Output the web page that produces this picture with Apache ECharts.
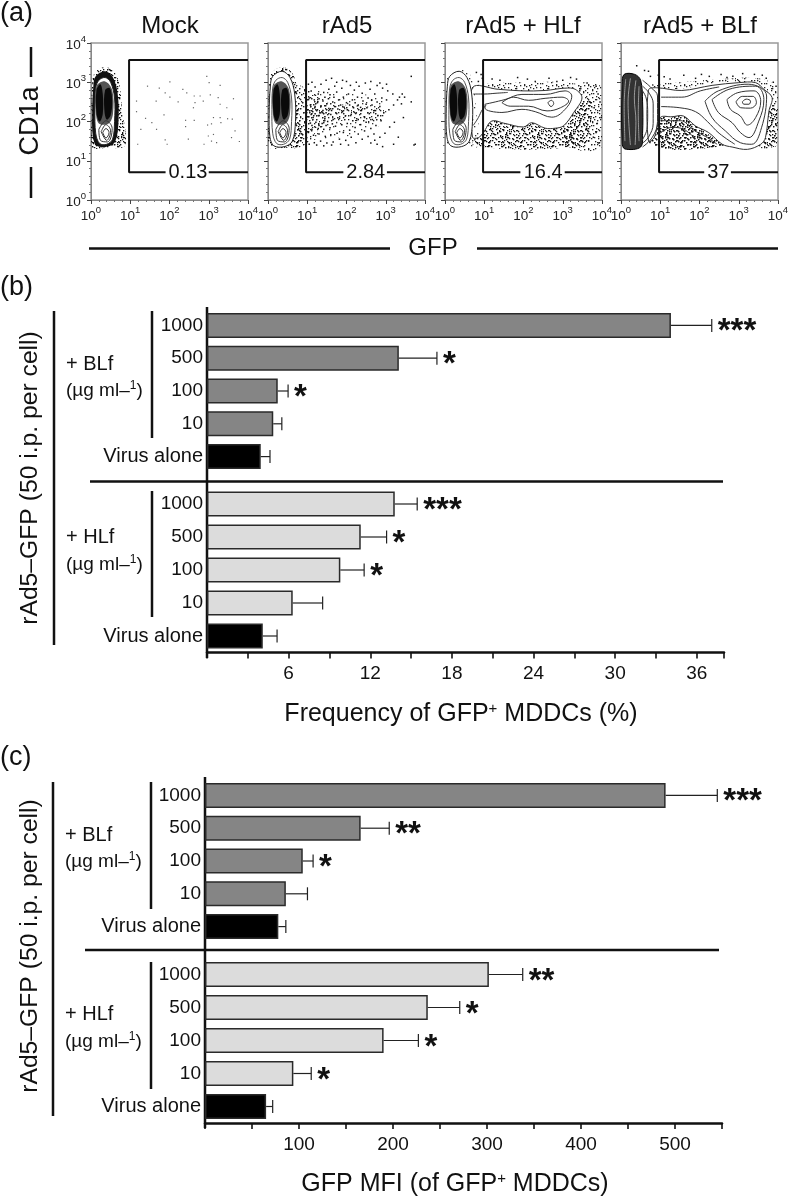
<!DOCTYPE html>
<html>
<head>
<meta charset="utf-8">
<title>rAd5-GFP and lactoferrin</title>
<style>
html, body { margin: 0; padding: 0; background: #fff; }
#main { width: 792px; height: 1199px; filter: blur(0.4px); }
</style>
<script src="https://cdn.jsdelivr.net/npm/echarts@6/dist/echarts.min.js"></script>
</head>
<body>
<div id="main"></div>
<script>
// ---- bar charts
var doseLabels = ['1000', '500', '100', '10', 'Virus alone'];

var freqBLf = [34.1, 14.1, 5.2, 4.87, 3.95];
var freqBLfErr = [37.1, 16.9, 5.96, 5.5, 4.63];
var freqBLfStars = ['***', '*', '*', '', ''];
var freqHLf = [13.8, 11.3, 9.8, 6.3, 4.1];
var freqHLfErr = [15.45, 13.2, 11.55, 8.5, 5.15];
var freqHLfStars = ['***', '*', '*', '', ''];

var mfiBLf = [490, 165.6, 104, 86, 78];
var mfiBLfErr = [545, 196, 115, 109, 86];
var mfiBLfStars = ['***', '**', '*', '', ''];
var mfiHLf = [302, 237, 190, 94, 65];
var mfiHLfErr = [338, 271, 227, 113, 72];
var mfiHLfStars = ['**', '*', '*', '*', ''];

// ---- flow plots, all coordinates in decades (log10)
var flowTitles = ['Mock', 'rAd5', 'rAd5 + HLf', 'rAd5 + BLf'];
var gateValues = ['0.13', '2.84', '16.4', '37'];
var gateCentres = [2.47, 2.49, 2.5, 2.48];
var gateGapLeft = [1.9, 1.92, 1.92, 2.12];
var gateGapRight = [3.0, 3.03, 3.05, 2.8];

var mockDots = [[1.44,2.9],[1.74,2.85],[2.01,3.01],[2.95,3.15],[3.01,2.99],[3.29,2.92],[1.16,2.52],[1.66,2.52],[1.89,2.73],[2.01,2.62],[2.34,2.82],[2.22,2.5],[2.44,2.73],[2.63,2.65],[2.78,2.65],[2.86,2.52],[3.04,2.68],[3.24,2.61],[3.29,2.44],[2.65,2.48],[2.61,2.35],[1.16,2.25],[1.39,2.08],[1.86,2.17],[2.41,2.03],[2.63,2.03],[2.41,1.87],[3.12,2.1],[3.29,2.1],[3.48,2.07],[3.6,2.06],[3.07,1.94],[2.97,1.91],[3.31,1.97],[1.27,1.8],[1.89,1.53],[1.94,1.42],[1.19,1.42],[2.99,1.63],[3.12,1.67],[3.07,1.5],[2.88,1.42],[3.2,1.46],[3.78,1.49],[3.63,2.58],[3.46,2.35],[1.55,1.97],[1.67,1.8],[3.67,1.76],[2.48,1.55],[3.58,1.59]];

var rad5Dots = [[1.03,2.95],[1.12,3.0],[1.2,2.88],[1.35,2.95],[1.48,3.05],[1.62,3.1],[1.7,2.9],[1.55,2.82],[1.42,2.74],[1.28,2.7],[1.1,2.78],[1.05,2.6],[1.18,2.55],[1.3,2.58],[1.45,2.62],[1.58,2.68],[1.75,2.75],[1.88,2.85],[2.0,3.02],[2.1,2.92],[2.2,2.8],[2.05,2.7],[1.92,2.62],[1.8,2.55],[1.65,2.5],[1.5,2.45],[1.35,2.4],[1.2,2.38],[1.08,2.42],[1.02,2.3],[1.14,2.25],[1.26,2.3],[1.4,2.28],[1.55,2.33],[1.7,2.38],[1.85,2.42],[2.0,2.48],[2.15,2.55],[2.28,2.62],[2.4,2.72],[2.32,2.9],[2.48,2.98],[2.6,2.82],[2.72,2.7],[2.55,2.6],[2.42,2.52],[2.3,2.42],[2.18,2.35],[2.02,2.3],[1.9,2.25],[1.75,2.2],[1.6,2.18],[1.45,2.12],[1.3,2.15],[1.15,2.1],[1.04,2.12],[1.08,1.96],[1.22,1.98],[1.38,1.95],[1.52,2.0],[1.66,2.05],[1.82,2.08],[1.97,2.14],[2.12,2.18],[2.25,2.22],[2.38,2.28],[2.52,2.35],[2.65,2.42],[2.78,2.5],[2.9,2.6],[3.02,2.55],[2.85,2.38],[2.72,2.28],[2.58,2.2],[2.45,2.12],[2.3,2.05],[2.16,2.02],[2.02,1.95],[1.88,1.92],[1.72,1.88],[1.58,1.84],[1.42,1.8],[1.28,1.82],[1.12,1.8],[1.03,1.72],[1.16,1.65],[1.3,1.68],[1.46,1.62],[1.6,1.66],[1.76,1.7],[1.92,1.72],[2.08,1.78],[2.22,1.85],[2.36,1.92],[2.5,1.98],[2.66,2.05],[2.8,2.15],[2.95,2.22],[3.08,2.3],[3.2,2.42],[3.3,2.55],[3.18,2.7],[3.05,2.78],[2.92,2.85],[2.78,2.92],[3.35,2.62],[3.42,2.7],[3.48,2.62],[3.4,2.45],[2.88,2.02],[2.75,1.9],[2.62,1.82],[2.46,1.76],[2.3,1.68],[2.12,1.6],[1.98,1.52],[1.82,1.55],[1.66,1.48],[1.5,1.45],[1.34,1.5],[1.18,1.46],[1.05,1.42],[1.24,1.4],[1.42,1.38],[1.62,1.4],[1.85,1.42],[2.05,1.4],[2.24,1.46],[2.4,1.55],[2.55,1.62],[2.7,1.68],[2.62,1.45],[2.72,1.52],[2.78,1.42],[2.85,1.6],[2.98,1.7],[3.1,1.86],[3.22,1.98],[3.32,1.6],[3.2,1.42],[3.45,2.1],[2.92,1.36],[1.75,3.0],[1.9,3.05],[2.25,3.0],[2.62,3.02],[2.85,2.98],[3.02,2.95],[1.62,2.28],[1.78,2.32],[1.94,2.36],[2.08,2.42],[2.22,2.48],[2.36,2.36],[2.5,2.44],[2.64,2.54],[1.26,2.48],[1.4,2.52],[1.54,2.58],[1.68,2.62],[1.1,2.18],[1.2,2.2],[1.34,2.22],[1.48,2.22],[1.12,1.9],[1.3,1.9],[1.48,1.9],[1.64,1.94],[3.65,3.15],[3.65,2.5],[3.75,1.42],[3.72,1.4]];

var hlfDots = [[.95,3.1],[1.4,3.05],[1.85,3.12],[2.3,3.02],[2.65,3.1],[3.0,3.05],[3.35,3.08],[3.62,2.98],[3.85,2.9],[.92,3.2],[1.2,3.08],[2.1,3.08],[2.85,3.02],[3.2,3.12],[3.9,2.7],[3.95,2.5],[3.8,2.35],[3.72,2.12],[3.88,1.95],[3.6,1.82],[3.78,1.6],[3.92,1.45],[3.66,1.5],[3.85,1.72],[3.98,2.1],[.8,3.25],[.85,3.02]];

var blfDots = [[.7,3.28],[.95,3.18],[1.25,3.08],[1.6,3.18],[1.9,3.1],[2.25,3.15],[2.55,3.2],[2.85,3.15],[3.1,3.22],[3.4,3.2],[3.7,3.1],[3.88,3.0],[.6,3.3],[1.1,3.14],[2.05,3.2],[2.7,3.12],[3.6,3.18],[.4,3.42],[.75,3.15],[3.95,2.9]];

// stipple texture, hand placed dots on a 32 px square tile
var stippleDots = [2,3,9,1,14,6,23,2,29,5,5,9,12,12,18,9,26,11,31,14,1,15,8,17,15,16,21,14,28,19,4,22,11,24,17,21,24,23,30,27,7,28,13,30,20,27,26,30,3,26,19,3,10,7,27,7,6,13,23,17,16,26,0,30,22,10];
var stippleLightShifts = [[0, 0]];
var stippleMidShifts = [[0, 0], [13, 7], [21, 18]];
var stippleDenseShifts = [[0, 0], [13, 7], [21, 18], [5, 24], [27, 11], [9, 15]];

// main cell population, shared by the first three plots
var popHalo = [[.03,2.95],[.1,3.25],[.36,3.39],[.61,3.25],[.74,2.86],[.8,2.18],[.87,1.84],[.85,1.37],[.44,1.33],[.03,1.35],[.01,2.01]];
var popOuter = [[.06,2.9],[.12,3.15],[.36,3.28],[.56,3.12],[.68,2.7],[.7,2.0],[.62,1.5],[.42,1.36],[.15,1.38],[.05,1.6],[.03,2.2]];
var popInner = [[.12,2.85],[.2,3.05],[.36,3.12],[.5,3.0],[.6,2.6],[.6,2.0],[.55,1.55],[.4,1.42],[.22,1.44],[.12,1.7],[.1,2.3]];
var popMid = [[.14,2.9],[.36,3.02],[.54,2.8],[.56,2.2],[.45,1.95],[.2,1.95],[.12,2.3]];
var popLobeL = [[.14,2.8],[.24,2.95],[.3,2.7],[.3,2.2],[.22,2.0],[.14,2.2]];
var popLobeR = [[.36,2.8],[.48,2.85],[.54,2.55],[.5,2.15],[.4,2.05],[.34,2.3]];
var popRing1 = [[.3,1.72],[.38,1.82],[.46,1.72],[.38,1.58]];
var popRing2 = [[.26,1.74],[.38,1.92],[.5,1.76],[.4,1.52]];
var popRing3 = [[.2,1.8],[.38,2.02],[.54,1.82],[.42,1.48],[.24,1.52]];

var rad5Cloud = [[.72,2.85],[.85,2.9],[1.0,2.85],[1.5,2.75],[2.2,2.7],[2.9,2.6],[3.0,2.1],[2.5,1.7],[1.8,1.6],[1.0,1.5],[.9,1.4],[.72,1.4]];
var rad5Near = [[.72,2.9],[.95,2.85],[1.4,2.5],[1.5,2.0],[1.2,1.7],[.95,1.4],[.72,1.4]];
var rad5Band = [[1.0,2.5],[2.0,2.42],[2.9,2.3],[2.9,2.02],[2.0,2.02],[1.0,2.05]];

// HLf band
var hlfBandTop = [[.75,2.9],[1.2,2.98],[2,3.0],[3,3.0],[3.5,2.9],[3.5,2.7],[.9,2.75]];
var hlfBandLow = [[.75,1.38],[.8,1.8],[1.2,2.1],[2,2.0],[2.6,1.9],[3.1,1.85],[3.3,1.38]];
var hlfBandRight = [[3.05,1.4],[3.05,1.9],[3.5,2.5],[3.75,2.5],[3.55,1.4]];
var hlfBandFar = [[3.2,1.36],[3.2,2.2],[3.4,2.95],[4,2.85],[4,1.36]];
var hlfOuter = [[.7,2.86],[1.36,2.82],[1.96,2.78],[2.55,2.79],[3.06,2.85],[3.32,2.82],[3.49,2.6],[3.28,2.23],[3.02,1.89],[2.81,1.83],[2.55,1.83],[2.21,1.97],[2.0,1.86],[1.53,1.95],[1.19,2.01],[.98,1.72],[.85,1.59],[.7,1.6]];
var hlfMid = [[1.02,2.44],[1.53,2.56],[1.96,2.69],[2.55,2.69],[3.06,2.78],[3.23,2.65],[3.06,2.31],[2.72,2.11],[2.3,2.25],[1.96,2.31],[1.45,2.23],[1.02,2.34]];
var hlfInner = [[1.45,2.48],[1.74,2.62],[2.13,2.54],[2.55,2.59],[2.98,2.62],[3.15,2.52],[2.94,2.35],[2.6,2.27],[2.13,2.39],[1.66,2.39]];
var hlfPeak = [[2.62,2.48],[2.71,2.54],[2.77,2.46],[2.7,2.38]];
var hlfLinkA = [[.72,2.7],[1.0,2.7],[1.3,2.72],[1.6,2.74]];
var hlfLinkB = [[.72,1.9],[.85,2.1],[.95,2.3],[1.05,2.42]];

// BLf plot
var blfBandTop = [[.8,2.95],[1.5,3.0],[2.5,3.08],[3.5,3.1],[3.95,2.85],[3.95,1.38],[3.5,1.38],[3.4,2.9],[1,2.8]];
var blfBandLow = [[.8,1.38],[.85,2.2],[1.3,2.25],[1.6,2.2],[2,1.85],[2.4,1.55],[2.7,1.38]];
var blfBandRight = [[3.7,2.4],[3.95,2.3],[3.95,1.4],[3.6,1.4]];
var blfOuter = [[.9,2.86],[1.55,2.79],[2.32,2.92],[3.0,2.99],[3.43,2.99],[3.64,2.82],[3.85,2.61],[3.77,2.27],[3.68,1.59],[3.56,1.42],[3.22,1.29],[2.83,1.35],[2.58,1.42],[2.23,1.72],[1.89,1.89],[1.59,2.14],[1.3,2.12],[1.0,2.1],[.85,1.6],[.7,1.5],[.7,2.8]];
var blfPop = [[.03,2.95],[.08,3.2],[.35,3.2],[.5,3.05],[.55,2.5],[.55,1.7],[.5,1.35],[.1,1.3],[.03,1.45]];
var blfRing1 = [[3.09,2.5],[3.19,2.57],[3.3,2.52],[3.26,2.44],[3.13,2.44]];
var blfRing2 = [[2.93,2.5],[3.09,2.64],[3.36,2.64],[3.45,2.48],[3.3,2.34],[3.05,2.35]];
var blfRing3 = [[2.7,2.56],[2.96,2.73],[3.39,2.78],[3.56,2.52],[3.43,2.1],[3.22,1.91],[3.04,2.14],[2.79,2.31]];
var blfRing4 = [[2.32,2.56],[2.75,2.82],[3.43,2.9],[3.64,2.56],[3.51,2.01],[3.26,1.59],[3.04,1.72],[2.83,1.97],[2.48,2.23]];
var blfRing5 = [[2.14,2.52],[2.48,2.78],[3.24,2.95],[3.71,2.65],[3.58,1.84],[3.33,1.42],[3.04,1.46],[2.66,1.76],[2.32,2.1]];
var blfRing6 = [[1.02,2.62],[1.55,2.62],[2.02,2.78],[2.5,2.88]];
var blfRing7 = [[1.02,2.38],[1.5,2.35],[1.9,2.25],[2.2,2.0],[2.5,1.7],[2.9,1.42]];
var blfLow1 = [[1.0,2.02],[1.3,2.02],[1.52,2.02],[1.85,1.78],[2.15,1.62],[2.45,1.42]];
var blfLow2 = [[1.0,1.7],[1.3,1.85],[1.6,1.8],[1.9,1.55]];
var blfSide1 = [[.55,3.05],[.78,2.85],[.93,2.65],[.93,2.0],[.8,1.6],[.55,1.35]];
var blfSide2 = [[.55,2.9],[.72,2.72],[.82,2.45],[.82,1.95],[.7,1.6],[.55,1.45]];
var blfSide3 = [[.5,2.85],[.64,2.6],[.68,2.2],[.66,1.8],[.52,1.5]];
var blfLine1 = [[.12,3.08],[.08,2.4],[.1,1.5]];
var blfLine2 = [[.24,3.1],[.18,2.5],[.24,1.4]];
var blfLine3 = [[.38,3.05],[.34,2.6],[.38,2.0],[.36,1.4]];
var blfLine4 = [[.46,2.9],[.44,2.2],[.46,1.5]];

// ---- layout, pixels
var flowLeft = [91, 268, 445, 621];
var INK = '#111';
var DARK_BAR = '#858585';
var LIGHT_BAR = '#dcdcdc';

function makeStipple(shifts, colour) {
    var c = document.createElement('canvas');
    c.width = 32;
    c.height = 32;
    var ctx = c.getContext('2d');
    ctx.fillStyle = colour;
    for (var s = 0; s < shifts.length; s++) {
        for (var i = 0; i < stippleDots.length; i += 2) {
            ctx.fillRect((stippleDots[i] + shifts[s][0]) % 32, (stippleDots[i + 1] + shifts[s][1]) % 32, 1.3, 1.3);
        }
    }
    return { type: 'pattern', image: c, repeat: 'repeat' };
}
var fillDense = makeStipple(stippleDenseShifts, '#111');
var fillMid = makeStipple(stippleMidShifts, '#222');
var fillLight = makeStipple(stippleLightShifts, '#333');

function poly(pts, fill, stroke) {
    return { pts: pts, fill: fill, stroke: stroke || null };
}

var flowPolys = [
    [poly(popHalo, fillDense), poly(popOuter, '#111'), poly(popInner, '#fff', '#222'),
        poly(popMid, '#555'), poly(popLobeL, '#0a0a0a'), poly(popLobeR, '#0a0a0a')],
    [poly(rad5Cloud, fillLight), poly(rad5Near, fillMid), poly(rad5Band, fillMid), poly(popHalo, fillDense), poly(popOuter, '#fff', '#222'), poly(popInner, '#fff', '#555'),
        poly(popMid, '#555'), poly(popLobeL, '#0a0a0a'), poly(popLobeR, '#0a0a0a')],
    [poly(hlfBandFar, fillMid), poly(hlfBandTop, fillMid), poly(hlfBandLow, fillDense), poly(hlfBandRight, fillDense),
        poly(hlfOuter, '#fff', '#333'), poly(popHalo, fillLight), poly(popOuter, '#fff', '#222'), poly(popInner, '#fff', '#555'),
        poly(popMid, '#555'), poly(popLobeL, '#0a0a0a'), poly(popLobeR, '#0a0a0a')],
    [poly(blfBandTop, fillMid), poly(blfBandLow, fillDense), poly(blfBandLow, fillDense), poly(blfBandRight, fillDense),
        poly(blfOuter, '#fff', '#333'), poly(blfPop, '#333', '#000')]
];
var flowLines = [
    [popRing1, popRing2, popRing3],
    [popRing1, popRing2, popRing3],
    [popRing1, popRing2, popRing3, hlfMid, hlfInner, hlfPeak, hlfLinkA, hlfLinkB],
    [blfRing1, blfRing2, blfRing3, blfRing4, blfRing5, blfRing6, blfRing7, blfLow1, blfLow2,
        blfSide1, blfSide2, blfSide3]
];
var flowDots = [mockDots, rad5Dots, hlfDots, blfDots];
var blfLightLines = [blfLine1, blfLine2, blfLine3, blfLine4];

var grid = [], xAxis = [], yAxis = [], series = [];

function polyRender(shapes) {
    return function (params, api) {
        var s = shapes[params.dataIndex];
        var pts = [];
        for (var i = 0; i < s.pts.length; i++) {
            pts.push(api.coord(s.pts[i]));
        }
        return {
            type: 'polygon',
            shape: { points: pts, smooth: 0.35 },
            style: { fill: s.fill, stroke: s.stroke, lineWidth: s.stroke ? 1 : 0 }
        };
    };
}

function closed(pts) {
    return pts.concat([pts[0]]);
}

for (var p = 0; p < 4; p++) {
    grid.push({ left: flowLeft[p], top: 43, width: 157, height: 157, show: true, borderColor: '#999', borderWidth: 1.5, backgroundColor: '#fff' });
    var flowAxisBase = {
        type: 'value', min: 0, max: 4, interval: 1, gridIndex: p,
        splitLine: { show: false },
        axisLine: { show: true, onZero: false, lineStyle: { color: '#888', width: 1 } },
        axisTick: { show: true, length: 4, lineStyle: { color: '#444' } },
        minorTick: { show: true, splitNumber: 5, length: 2, lineStyle: { color: '#777' } },
        axisLabel: {
            color: '#222', margin: 5,
            formatter: function (v) { return '{a|10}{b|' + v + '}'; },
            rich: {
                a: { fontSize: 13.5, fontFamily: 'Liberation Sans', lineHeight: 18, verticalAlign: 'bottom', color: '#222' },
                b: { fontSize: 9.5, fontFamily: 'Liberation Sans', lineHeight: 18, verticalAlign: 'top', color: '#222' }
            }
        }
    };
    xAxis.push(flowAxisBase);
    var yAx = {};
    for (var k in flowAxisBase) { yAx[k] = flowAxisBase[k]; }
    if (p > 0) {
        yAx.axisLabel = { show: false };
    }
    yAxis.push(yAx);

    var shapes = flowPolys[p];
    var ids = [];
    for (var s = 0; s < shapes.length; s++) { ids.push([s]); }
    series.push({
        type: 'custom', xAxisIndex: p, yAxisIndex: p, clip: true, silent: true,
        data: ids, renderItem: polyRender(shapes)
    });
    for (var c = 0; c < flowLines[p].length; c++) {
        var isOpen = flowLines[p][c] === hlfLinkA || flowLines[p][c] === hlfLinkB || p === 3 && c >= 5;
        series.push({
            type: 'line', xAxisIndex: p, yAxisIndex: p, silent: true, showSymbol: false, smooth: 0.4,
            data: isOpen ? flowLines[p][c] : closed(flowLines[p][c]),
            lineStyle: { color: '#333', width: 1 }
        });
    }
    if (p === 3) {
        for (var b = 0; b < blfLightLines.length; b++) {
            series.push({
                type: 'line', xAxisIndex: p, yAxisIndex: p, silent: true, showSymbol: false, smooth: 0.4,
                data: blfLightLines[b], lineStyle: { color: '#999', width: 1 }
            });
        }
    }
    series.push({
        type: 'scatter', xAxisIndex: p, yAxisIndex: p, silent: true, data: flowDots[p],
        symbol: 'rect', symbolSize: p === 0 ? 1.2 : 1.5, itemStyle: { color: p === 0 ? '#666' : '#111', opacity: 1 }
    });
    // gate, left part then the piece to the right of the value
    series.push({
        type: 'line', xAxisIndex: p, yAxisIndex: p, silent: true, showSymbol: false,
        data: [[4, 3.57], [.97, 3.57], [.97, .705], [gateGapLeft[p], .705]],
        lineStyle: { color: INK, width: 2 }
    });
    series.push({
        type: 'line', xAxisIndex: p, yAxisIndex: p, silent: true, showSymbol: false,
        data: [[gateGapRight[p], .705], [4, .705]],
        lineStyle: { color: INK, width: 2 }
    });
    series.push({
        type: 'scatter', xAxisIndex: p, yAxisIndex: p, silent: true, symbolSize: 0,
        data: [[gateCentres[p], .705]],
        itemStyle: { opacity: 1 },
        label: { show: true, position: 'inside', formatter: gateValues[p], fontSize: 20, fontFamily: 'Liberation Sans', color: INK, textBorderWidth: 0 }
    });
}

function errorRender(errs, stars) {
    return function (params, api) {
        var i = params.dataIndex;
        var a = api.coord([api.value(1), i]);
        var b = api.coord([errs[i], i]);
        var kids = [
            { type: 'line', shape: { x1: a[0], y1: a[1], x2: b[0], y2: b[1] }, style: { stroke: '#222', lineWidth: 1.2 } },
            { type: 'line', shape: { x1: b[0], y1: b[1] - 6.5, x2: b[0], y2: b[1] + 6.5 }, style: { stroke: '#222', lineWidth: 1.2 } }
        ];
        if (stars[i]) {
            kids.push({
                type: 'text',
                style: {
                    x: b[0] + 6, y: b[1] + 7, text: stars[i], fill: INK,
                    font: 'bold 33px "Liberation Sans"', textAlign: 'left', textVerticalAlign: 'middle'
                }
            });
        }
        return { type: 'group', children: kids };
    };
}

function addBars(idx, top, height, left, max, interval, values, errs, stars, colour, showX) {
    grid.push({ left: left, top: top, width: 517, height: height });
    xAxis.push({
        type: 'value', gridIndex: idx, min: 0, max: max, interval: interval, show: showX,
        splitLine: { show: false },
        axisLine: { show: true, onZero: false, lineStyle: { color: INK, width: 2.5 } },
        axisTick: { show: true, length: 6, lineStyle: { color: INK, width: 1.6 } },
        axisLabel: {
            margin: 12, fontSize: 19, fontFamily: 'Liberation Sans', color: INK,
            formatter: function (v) { return (v > 0 && v % (interval * 2) === 0) ? String(v) : ''; }
        }
    });
    yAxis.push({
        type: 'category', gridIndex: idx, inverse: true, data: doseLabels,
        axisLine: { show: false },
        axisTick: { show: false },
        axisLabel: {
            margin: 4, fontSize: 19, fontFamily: 'Liberation Sans', color: INK,
            formatter: function (v) { return v.length > 4 ? '{v|' + v + '}' : v; },
            rich: { v: { fontSize: 20, fontFamily: 'Liberation Sans', color: INK } }
        }
    });
    var barData = [];
    for (var i = 0; i < values.length; i++) {
        barData.push({ value: values[i], itemStyle: { color: i === 4 ? '#000' : colour, borderColor: '#2a2a2a', borderWidth: 1.5 } });
    }
    series.push({
        type: 'bar', xAxisIndex: idx, yAxisIndex: idx, data: barData, barWidth: 25, silent: true
    });
    var errData = [];
    for (var j = 0; j < values.length; j++) {
        errData.push([j, values[j], errs[j]]);
    }
    series.push({
        type: 'custom', xAxisIndex: idx, yAxisIndex: idx, silent: true, clip: false,
        encode: { y: 0, x: [1, 2] }, data: errData, renderItem: errorRender(errs, stars), z: 5
    });
}

addBars(4, 309, 164, 207, 38, 3, freqBLf, freqBLfErr, freqBLfStars, DARK_BAR, false);
addBars(5, 487.5, 165, 207, 38, 3, freqHLf, freqHLfErr, freqHLfStars, LIGHT_BAR, true);
addBars(6, 779, 164, 205, 550, 50, mfiBLf, mfiBLfErr, mfiBLfStars, DARK_BAR, false);
addBars(7, 958, 165, 205, 550, 50, mfiHLf, mfiHLfErr, mfiHLfStars, LIGHT_BAR, true);

// ---- texts and rules
var graphic = [];
function text(x, y, str, size, opts) {
    opts = opts || {};
    graphic.push({
        type: 'text', x: x, y: y, rotation: opts.rot || 0,
        style: {
            text: str, fill: INK, font: size + 'px "Liberation Sans"',
            textAlign: opts.align || 'left', textVerticalAlign: 'middle', rich: opts.rich
        }
    });
}
function rule(x1, y1, x2, y2, w) {
    graphic.push({ type: 'line', shape: { x1: x1, y1: y1, x2: x2, y2: y2 }, style: { stroke: INK, lineWidth: w } });
}

text(0, 14, '(a)', 27);
text(0, 288, '(b)', 27);
text(0, 758, '(c)', 27);

var titleCentres = [170, 347, 523, 700];
for (var t = 0; t < 4; t++) {
    text(titleCentres[t], 26, flowTitles[t], 24, { align: 'center' });
}
text(31, 121, 'CD1a', 27, { align: 'center', rot: Math.PI / 2 });
rule(31, 47, 31, 77, 2.5);
rule(31, 167, 31, 198, 2.5);
text(433, 248, 'GFP', 24, { align: 'center' });
rule(89, 248.5, 390, 248.5, 2.5);
rule(477, 248.5, 778, 248.5, 2.5);

var supRich = { s: { fontSize: 12, fontFamily: 'Liberation Sans', fill: INK, verticalAlign: 'top', lineHeight: 20 }, n: { fontSize: 19, fontFamily: 'Liberation Sans', fill: INK, lineHeight: 20, verticalAlign: 'bottom' } };
var supRichBig = { s: { fontSize: 15, fontFamily: 'Liberation Sans', fill: INK, verticalAlign: 'top', lineHeight: 26 }, n: { fontSize: 25, fontFamily: 'Liberation Sans', fill: INK, lineHeight: 26, verticalAlign: 'bottom' } };

function sideLabels(midY, axisX, ruleX, lineTop, lineBottom, topA, topB, lowA, lowB, divY, divX, divEnd, textX, lowOff, spineTop, spineEnd) {
    text(30, midY, 'rAd5\u2013GFP (50 i.p. per cell)', 24.7, { align: 'center', rot: Math.PI / 2 });
    rule(ruleX[0], lineTop, ruleX[0], lineBottom, 2.5);
    rule(ruleX[1], topA, ruleX[1], topB, 2.5);
    rule(ruleX[1], lowA, ruleX[1], lowB, 2.5);
    rule(divX, divY, divEnd, divY, 2.5);
    rule(axisX, spineTop, axisX, spineEnd, 2.5);
    text(textX, topA + 53, '+ BLf', 20);
    text(textX, topA + 79, '{n|(\u00b5g ml\u2013}{s|1}{n|)}', 19, { rich: supRich });
    text(textX, lowA + lowOff, '+ HLf', 20);
    text(textX, lowA + lowOff + 27, '{n|(\u00b5g ml\u2013}{s|1}{n|)}', 19, { rich: supRich });
}
sideLabels(478, 207, [54, 152], 311, 645, 311, 438, 491, 617, 481.5, 90, 723, 66, 46, 307, 658);
sideLabels(946, 205, [53, 151], 782, 1116, 782, 909, 962, 1089, 950, 85, 719, 65, 52, 777, 1128);

text(461, 714, '{n|Frequency of GFP}{s|+}{n| MDDCs (%)}', 25, { align: 'center', rich: supRichBig });
text(455, 1184, '{n|GFP MFI (of GFP}{s|+}{n| MDDCs)}', 25, { align: 'center', rich: supRichBig });

var chart = echarts.init(document.getElementById('main'));
chart.setOption({
    animation: false,
    backgroundColor: '#fff',
    textStyle: { fontFamily: 'Liberation Sans' },
    grid: grid,
    xAxis: xAxis,
    yAxis: yAxis,
    series: series,
    graphic: graphic
});
</script>
</body>
</html>
